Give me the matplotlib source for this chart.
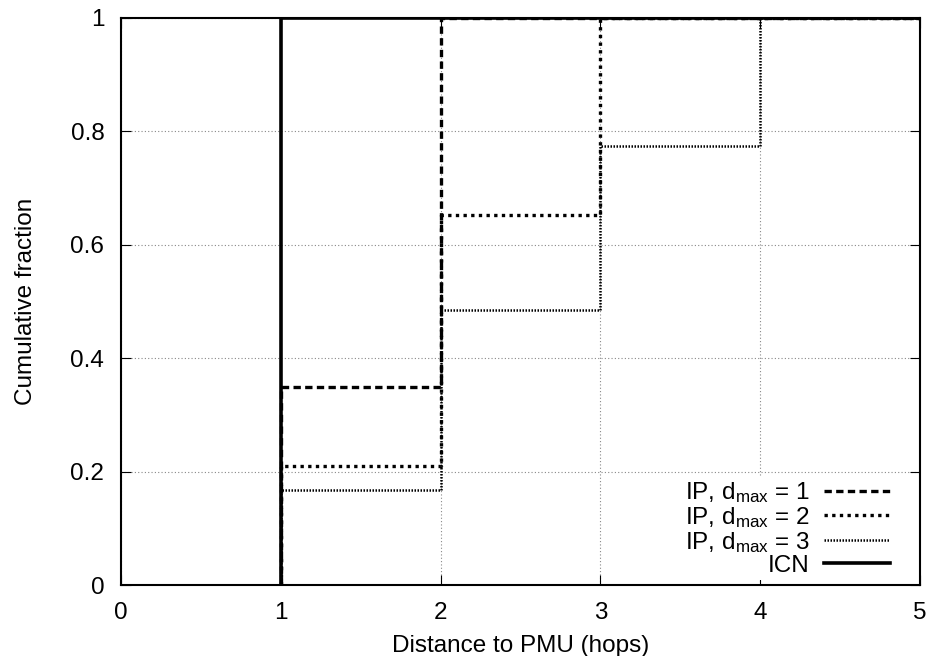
import numpy as np
import matplotlib.pyplot as plt

plt.rcParams['font.family'] = ['Liberation Sans', 'DejaVu Sans']
plt.rcParams['mathtext.fontset'] = 'custom'
plt.rcParams['mathtext.rm'] = 'Liberation Sans'
plt.rcParams['mathtext.it'] = 'Liberation Sans'

# CDF steps (hops -> cumulative fraction)
hops = [1, 2, 3, 4]
ip_d1 = [0.35, 1.0, 1.0, 1.0]
ip_d2 = [0.21, 0.652, 1.0, 1.0]
ip_d3 = [0.168, 0.485, 0.775, 1.0]
icn = [1.0, 1.0, 1.0, 1.0]

labels = ['IP, d$_{\\mathrm{max}}$ = 1', 'IP, d$_{\\mathrm{max}}$ = 2',
          'IP, d$_{\\mathrm{max}}$ = 3', 'ICN']
styles = [dict(ls=(0, (2.2, 1.3)), lw=2.4),
          dict(ls=(0, (1.0, 1.3)), lw=2.4),
          dict(ls=(0, (0.6, 0.6)), lw=1.8),
          dict(ls='-', lw=2.6)]

fs = 17.5
fig = plt.figure(figsize=(9.27, 6.56), dpi=100)
ax = fig.add_axes([121/927, 71/656, 799/927, 567/656])

for vals, lab, st in zip([ip_d1, ip_d2, ip_d3, icn], labels, styles):
    xs = [hops[0]] + hops + [5]
    ys = [0] + vals + [vals[-1]]
    ax.step(xs, ys, where='post', color='black', label=lab, **st)

ax.set_xlim(0, 5)
ax.set_ylim(0, 1)
ax.set_xticks([0, 1, 2, 3, 4, 5])
ax.set_yticks([0, 0.2, 0.4, 0.6, 0.8, 1])
ax.set_yticklabels(['0', '0.2', '0.4', '0.6', '0.8', '1'])
ax.grid(True, color='#888888', ls=(0, (1, 2)), lw=0.8)
ax.tick_params(direction='in', top=True, right=True, labelsize=fs, length=7, pad=12)
for s in ax.spines.values():
    s.set_linewidth(1.5)
ax.set_xlabel('Distance to PMU (hops)', fontsize=fs, labelpad=8)
ax.set_ylabel('Cumulative fraction', fontsize=fs, labelpad=24)

leg = ax.legend(loc='lower right', bbox_to_anchor=(0.967, 0.008),
                markerfirst=False, fontsize=fs, frameon=True,
                framealpha=1, edgecolor='none', facecolor='white', fancybox=False,
                handlelength=2.7, labelspacing=0.0, borderaxespad=0,
                borderpad=0.15, handletextpad=0.6)
for t in leg.get_texts():
    t.set_ha('right')
leg._legend_box.align = 'right'

fig.savefig('out.png', dpi=100)
